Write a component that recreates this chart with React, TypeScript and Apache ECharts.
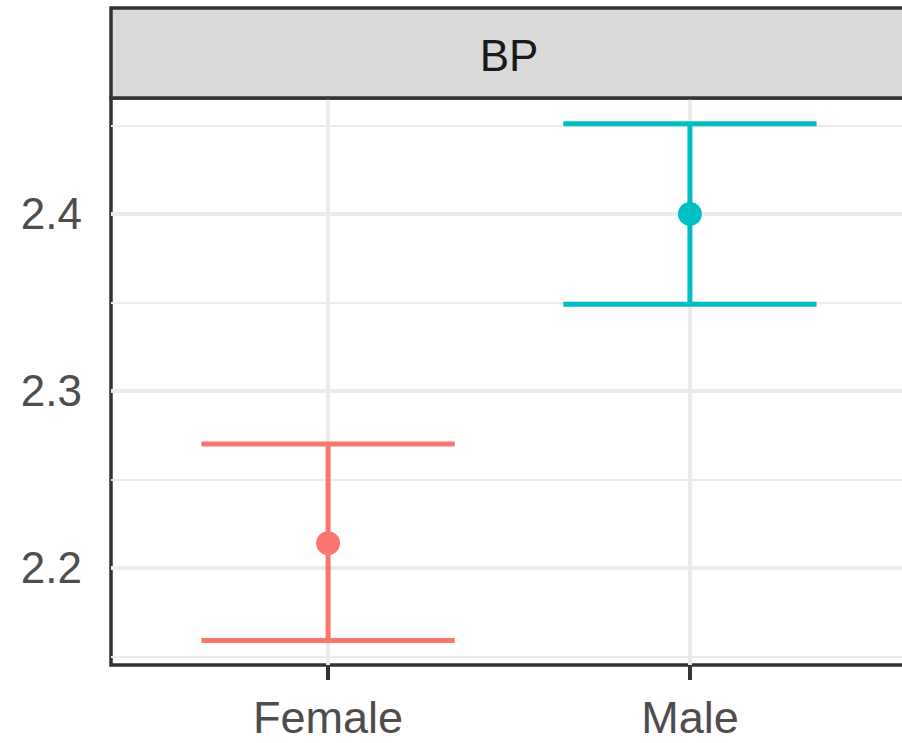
import React, { useEffect, useRef } from "react";
import * as echarts from "echarts";

const categories = ["Female", "Male"];
const estimates = [2.214, 2.4];
const lowerCI = [2.159, 2.349];
const upperCI = [2.27, 2.451];
const groupColors = ["#F8766D", "#00BFC4"];
const yMajorTicks = [2.2, 2.3, 2.4];
const yMinorTicks = [2.15, 2.25, 2.35, 2.45];
const yRange = [2.1452, 2.4655];
const xRange = [-0.6, 1.6];
const capHalfWidth = 0.35;
const stripLabel = "BP";

const FONT = "'Liberation Sans', Arial, Helvetica, sans-serif";

export default function App() {
  const ref = useRef<HTMLDivElement>(null);

  useEffect(() => {
    if (!ref.current) return;
    const chart = echarts.init(ref.current, undefined, { renderer: "svg" });
    const catIdx = categories.map((_, i) => i);

    const option: any = {
      animation: false,
      backgroundColor: "#FFFFFF",
      grid: {
        left: 111,
        right: 13,
        top: 98,
        bottom: 78,
        show: true,
        backgroundColor: "#FFFFFF",
        borderColor: "#333333",
        borderWidth: 3.5,
      },
      xAxis: {
        type: "value",
        min: xRange[0],
        max: xRange[1],
        axisLine: { show: false },
        splitLine: { show: false },
        axisTick: {
          show: true,
          customValues: catIdx,
          length: 15,
          lineStyle: { color: "#333333", width: 4 },
        },
        axisLabel: {
          customValues: catIdx,
          formatter: (v: number) => categories[Math.round(v)] ?? "",
          color: "#4D4D4D",
          fontSize: 45,
          fontFamily: FONT,
          margin: 30,
        },
      },
      yAxis: {
        type: "value",
        min: yRange[0],
        max: yRange[1],
        axisLine: { show: false },
        splitLine: { show: false },
        axisTick: {
          show: true,
          customValues: yMajorTicks,
          length: 15,
          lineStyle: { color: "#333333", width: 4 },
        },
        axisLabel: {
          customValues: yMajorTicks,
          formatter: (v: number) => v.toFixed(1),
          color: "#4D4D4D",
          fontSize: 44,
          fontFamily: FONT,
          margin: 29,
        },
      },
      graphic: [
        {
          type: "rect",
          z: 10,
          shape: { x: 111, y: 8, width: 796, height: 90 },
          style: { fill: "#D9D9D9", stroke: "#333333", lineWidth: 3.5 },
        },
        {
          type: "text",
          z: 11,
          x: 509,
          y: 55,
          style: {
            text: stripLabel,
            fill: "#1A1A1A",
            font: `44px ${FONT}`,
            textAlign: "center",
            textVerticalAlign: "middle",
          },
        },
      ],
      series: [
        {
          type: "line",
          z: 1,
          data: [],
          silent: true,
          markLine: {
            z: 1,
            silent: true,
            symbol: ["none", "none"],
            label: { show: false },
            animation: false,
            data: [
              ...yMinorTicks.map((v) => ({
                yAxis: v,
                lineStyle: { color: "#EBEBEB", width: 2, type: "solid" },
              })),
              ...yMajorTicks.map((v) => ({
                yAxis: v,
                lineStyle: { color: "#EBEBEB", width: 4, type: "solid" },
              })),
              ...catIdx.map((v) => ({
                xAxis: v,
                lineStyle: { color: "#EBEBEB", width: 4, type: "solid" },
              })),
            ],
          },
        },
        {
          type: "custom",
          z: 3,
          data: catIdx.map((i) => [i, lowerCI[i], upperCI[i]]),
          renderItem: (params: any, api: any) => {
            const x = api.value(0);
            const lo = api.value(1);
            const hi = api.value(2);
            const pLo = api.coord([x, lo]);
            const pHi = api.coord([x, hi]);
            const half = api.size([capHalfWidth, 0])[0];
            const style = {
              stroke: groupColors[params.dataIndex],
              lineWidth: 5,
              fill: "none",
            };
            return {
              type: "group",
              children: [
                { type: "line", shape: { x1: pLo[0], y1: pHi[1], x2: pLo[0], y2: pLo[1] }, style },
                { type: "line", shape: { x1: pHi[0] - half, y1: pHi[1], x2: pHi[0] + half, y2: pHi[1] }, style },
                { type: "line", shape: { x1: pLo[0] - half, y1: pLo[1], x2: pLo[0] + half, y2: pLo[1] }, style },
              ],
            };
          },
        },
        {
          type: "scatter",
          z: 4,
          symbol: "circle",
          symbolSize: 24,
          data: catIdx.map((i) => ({
            value: [i, estimates[i]],
            itemStyle: { color: groupColors[i], opacity: 1 },
          })),
        },
      ],
    };

    chart.setOption(option);
    return () => chart.dispose();
  }, []);

  return (
    <div
      style={{
        position: "absolute",
        left: 0,
        top: 0,
        width: 902,
        height: 743,
        overflow: "hidden",
        background: "#FFFFFF",
      }}
    >
      <div ref={ref} style={{ width: 920, height: 743 }} />
    </div>
  );
}
